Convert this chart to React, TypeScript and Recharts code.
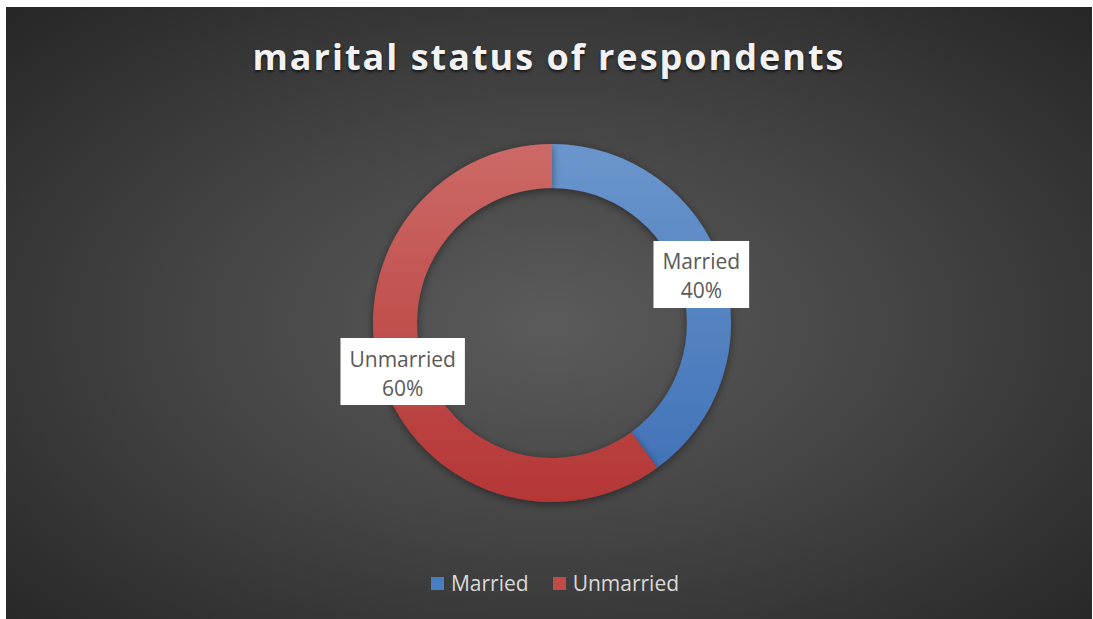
import { Cell, Legend, Pie, PieChart } from "recharts";

const CATEGORIES = ["Married", "Unmarried"];
const SHARES = [40, 60];
// top / bottom shade of each slice
const TOP_COLORS = ["#6b96cd", "#cc6a67"];
const BOTTOM_COLORS = ["#3e70b6", "#b53636"];
const LEGEND_COLORS = ["#4a7ec2", "#c24a48"];

const W = 1086;
const H = 612;
const CX = 546;
const CY = 316;
const OUTER = 179;
const INNER = 135;
const FONT = "'Open Sans', 'Noto Sans', sans-serif";
const RADIAN = Math.PI / 180;

const data = CATEGORIES.map((name, i) => ({ name, value: SHARES[i] }));

let ctx: CanvasRenderingContext2D | null = null;
function textWidth(s: string) {
  if (!ctx) ctx = document.createElement("canvas").getContext("2d");
  if (!ctx) return s.length * 11;
  ctx.font = `21px ${FONT}`;
  return ctx.measureText(s).width;
}

function renderLabel(props: any) {
  const { cx, cy, midAngle, innerRadius, outerRadius, name, percent } = props;
  const r = (innerRadius + outerRadius) / 2;
  const x = cx + r * Math.cos(-midAngle * RADIAN);
  const y = cy + r * Math.sin(-midAngle * RADIAN);
  const pct = `${Math.round(percent * 100)}%`;
  const w = Math.max(textWidth(name), textWidth(pct)) + 18;
  const h = 67;
  return (
    <g>
      <rect x={x - w / 2} y={y - h / 2} width={w} height={h} fill="#ffffff" />
      <text
        x={x}
        y={y - 13}
        textAnchor="middle"
        dominantBaseline="central"
        fill="#595959"
        fontSize={21}
        fontFamily={FONT}
      >
        {name}
      </text>
      <text
        x={x}
        y={y + 16}
        textAnchor="middle"
        dominantBaseline="central"
        fill="#595959"
        fontSize={21}
        fontFamily={FONT}
      >
        {pct}
      </text>
    </g>
  );
}

function LegendContent() {
  return (
    <div
      style={{
        display: "flex",
        justifyContent: "center",
        alignItems: "center",
        gap: 24,
        paddingLeft: 12,
        fontFamily: FONT,
        fontSize: 21,
        color: "#d9d9d9",
      }}
    >
      {CATEGORIES.map((name, i) => (
        <div key={name} style={{ display: "flex", alignItems: "center" }}>
          <span
            style={{
              display: "inline-block",
              width: 13,
              height: 13,
              background: LEGEND_COLORS[i],
              marginRight: 7,
            }}
          />
          <span>{name}</span>
        </div>
      ))}
    </div>
  );
}

export default function App() {
  return (
    <div
      style={{
        position: "absolute",
        left: 6,
        top: 7,
        width: W,
        height: H,
        background: "radial-gradient(ellipse at 50% 52%, #5b5b5b 0%, #454545 45%, #262626 100%)",
        overflow: "hidden",
      }}
    >
      <div
        style={{
          position: "absolute",
          left: 0,
          right: 0,
          top: 25,
          textAlign: "center",
          fontFamily: FONT,
          fontWeight: 700,
          fontSize: 36,
          letterSpacing: 2,
          color: "#f2f2f2",
          textShadow: "0 2px 3px rgba(0,0,0,0.65)",
        }}
      >
        marital status of respondents
      </div>
      <PieChart
        width={W}
        height={H}
        margin={{ top: 0, right: 0, bottom: 0, left: 0 }}
        style={{ position: "absolute", left: 0, top: 0 }}
      >
        <defs>
          {CATEGORIES.map((name, i) => (
            <linearGradient
              key={name}
              id={`grad-${i}`}
              gradientUnits="userSpaceOnUse"
              x1={0}
              y1={CY - OUTER}
              x2={0}
              y2={CY + OUTER}
            >
              <stop offset="0%" stopColor={TOP_COLORS[i]} />
              <stop offset="100%" stopColor={BOTTOM_COLORS[i]} />
            </linearGradient>
          ))}
          <filter id="ringShadow" x="-20%" y="-20%" width="140%" height="140%">
            <feDropShadow dx="0" dy="2" stdDeviation="4" floodColor="#000" floodOpacity="0.45" />
          </filter>
        </defs>
        <Pie
          data={data}
          dataKey="value"
          nameKey="name"
          cx={CX}
          cy={CY}
          innerRadius={INNER}
          outerRadius={OUTER}
          startAngle={90}
          endAngle={-270}
          stroke="none"
          label={renderLabel}
          labelLine={false}
          isAnimationActive={false}
          style={{ filter: "url(#ringShadow)" }}
        >
          {data.map((_, i) => (
            <Cell key={i} fill={`url(#grad-${i})`} />
          ))}
        </Pie>
        <Legend content={LegendContent} wrapperStyle={{ top: 562, left: 0, width: W }} />
      </PieChart>
    </div>
  );
}
